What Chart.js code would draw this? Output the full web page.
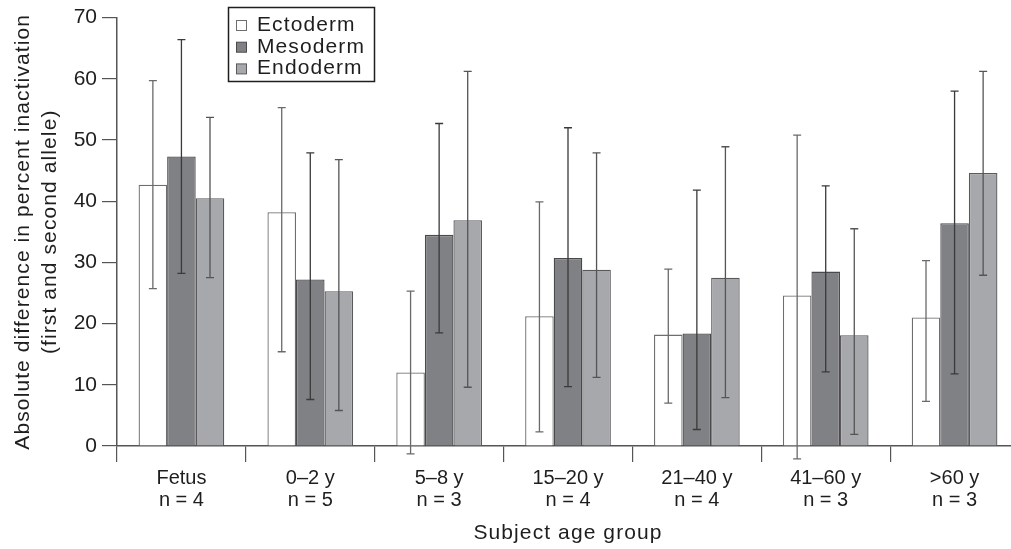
<!DOCTYPE html>
<html>
<head>
<meta charset="utf-8">
<script src="https://cdn.jsdelivr.net/npm/chart.js@4/dist/chart.umd.min.js"></script>
<style>
  html, body { margin:0; padding:0; background:#fff; overflow:hidden; }
  #wrap { width:1011px; height:549px; overflow:hidden; }
  canvas { display:block; }
</style>
</head>
<body>
<div id="wrap"><canvas id="c" width="1022" height="549"></canvas></div>
<script>
const categories = [["Fetus","n = 4"],["0\u20132 y","n = 5"],["5\u20138 y","n = 3"],["15\u201320 y","n = 4"],["21\u201340 y","n = 4"],["41\u201360 y","n = 3"],[">60 y","n = 3"]];
const seriesNames = ["Ectoderm","Mesoderm","Endoderm"];
const ectoderm = [42.7, 38.2, 12.0, 21.2, 18.2, 24.6, 21.0];
const mesoderm = [47.3, 27.2, 34.5, 30.7, 18.4, 28.5, 36.4];
const endoderm = [40.5, 25.3, 36.9, 28.8, 27.5, 18.1, 44.6];
const ectodermHigh = [59.7, 55.3, 25.3, 39.9, 28.9, 50.8, 30.3];
const ectodermLow  = [25.7, 15.4, -1.3, 2.3, 7.0, -2.1, 7.3];
const mesodermHigh = [66.4, 47.9, 52.7, 52.0, 41.8, 42.5, 58.0];
const mesodermLow  = [28.2, 7.6, 18.5, 9.7, 2.7, 12.1, 11.8];
const endodermHigh = [53.7, 46.8, 61.2, 47.9, 48.9, 35.5, 61.2];
const endodermLow  = [27.5, 5.8, 9.6, 11.2, 7.9, 1.9, 27.9];
const yTicks = [0, 10, 20, 30, 40, 50, 60, 70];

const FONT = "'Liberation Sans', Arial, Helvetica, sans-serif";
const TXT = '#1e1e1e';
const fills = ['#ffffff', '#808185', '#a7a8ab'];
const borders = ['#6e6e6e', '#4a4a4c', '#5a5a5c'];
const errColors = ['#6a6a6a', '#3a3a3a', '#555557'];
const highs = [ectodermHigh, mesodermHigh, endodermHigh];
const lows = [ectodermLow, mesodermLow, endodermLow];
const WIDE = '1.1px';

// titles are drawn (z=-1) with a little letter spacing; tick labels (z=1) without
const spacing = {
  id: 'spacing',
  beforeDraw(chart) { chart.ctx.letterSpacing = WIDE; },
  beforeDatasetsDraw(chart) { chart.ctx.letterSpacing = '0px'; }
};

const errorBars = {
  id: 'errorBars',
  afterDatasetsDraw(chart) {
    const ctx = chart.ctx;
    const y = chart.scales.y;
    ctx.save();
    chart.data.datasets.forEach((ds, i) => {
      const meta = chart.getDatasetMeta(i);
      meta.data.forEach((bar, j) => {
        const x = bar.x;
        const yh = y.getPixelForValue(highs[i][j]);
        const yl = y.getPixelForValue(lows[i][j]);
        ctx.strokeStyle = errColors[i];
        ctx.lineWidth = 1.3;
        ctx.beginPath();
        ctx.moveTo(x, yh); ctx.lineTo(x, yl);
        ctx.moveTo(x - 4, yh); ctx.lineTo(x + 4, yh);
        ctx.moveTo(x - 4, yl); ctx.lineTo(x + 4, yl);
        ctx.stroke();
      });
    });
    ctx.restore();
    ctx.letterSpacing = '0px';
  }
};

const boxLegend = {
  id: 'boxLegend',
  afterDraw(chart) {
    const ctx = chart.ctx;
    ctx.save();
    ctx.letterSpacing = WIDE;
    ctx.strokeStyle = '#1e1e1e';
    ctx.lineWidth = 1.5;
    ctx.fillStyle = '#fff';
    ctx.fillRect(228.5, 7.5, 146, 74);
    ctx.strokeRect(228.5, 7.5, 146, 74);
    ctx.font = '21px ' + FONT;
    ctx.textBaseline = 'alphabetic';
    chart.data.datasets.forEach((ds, i) => {
      const base = 31 + i * 21.7;
      ctx.fillStyle = fills[i];
      ctx.fillRect(236.5, base - 10.5, 10, 10);
      ctx.strokeStyle = borders[i];
      ctx.lineWidth = 1;
      ctx.strokeRect(236.5, base - 10.5, 10, 10);
      ctx.fillStyle = TXT;
      ctx.fillText(ds.label, 257, base);
    });
    ctx.restore();
  }
};

new Chart(document.getElementById('c'), {
  type: 'bar',
  data: {
    labels: categories,
    datasets: [
      { label: seriesNames[0], data: ectoderm, backgroundColor: fills[0], borderColor: borders[0], borderWidth: 1.3 },
      { label: seriesNames[1], data: mesoderm, backgroundColor: fills[1], borderColor: borders[1], borderWidth: 1.3 },
      { label: seriesNames[2], data: endoderm, backgroundColor: fills[2], borderColor: borders[2], borderWidth: 1.3 }
    ]
  },
  options: {
    responsive: false,
    animation: false,
    devicePixelRatio: 1,
    layout: { padding: { top: 17, right: 3, left: 0, bottom: 0 } },
    datasets: { bar: { barPercentage: 1.0, categoryPercentage: 0.665 } },
    plugins: { legend: { display: false }, tooltip: { enabled: false } },
    scales: {
      x: {
        offset: true,
        grid: { drawOnChartArea: false, drawTicks: true, tickLength: 16, offset: true, color: '#555', lineWidth: 1.2 },
        border: { display: true, color: '#555', width: 1.5 },
        ticks: { z: 1, color: TXT, font: { family: FONT, size: 20, lineHeight: 1.12 }, padding: 5, maxRotation: 0, autoSkip: false },
        title: { display: true, text: 'Subject age group', color: TXT, font: { family: FONT, size: 21, lineHeight: 1.2 }, padding: { top: 4, bottom: 3 } },
        afterFit(s) { s.height = 103; }
      },
      y: {
        min: 0, max: 70,
        afterBuildTicks(s) { s.ticks = yTicks.map(v => ({ value: v })); },
        grid: { drawOnChartArea: false, drawTicks: true, tickLength: 15, color: '#555', lineWidth: 1.2 },
        border: { display: true, color: '#555', width: 1.5 },
        ticks: { z: 1, color: TXT, font: { family: FONT, size: 21 }, padding: 5 },
        title: { display: true, text: ['Absolute difference in percent inactivation', '(first and second allele)'], color: TXT, font: { family: FONT, size: 21, lineHeight: 1.29 }, padding: { top: 10, bottom: 0 } },
        afterFit(s) { s.width = 117; }
      }
    }
  },
  plugins: [spacing, errorBars, boxLegend]
});
</script>
</body>
</html>
